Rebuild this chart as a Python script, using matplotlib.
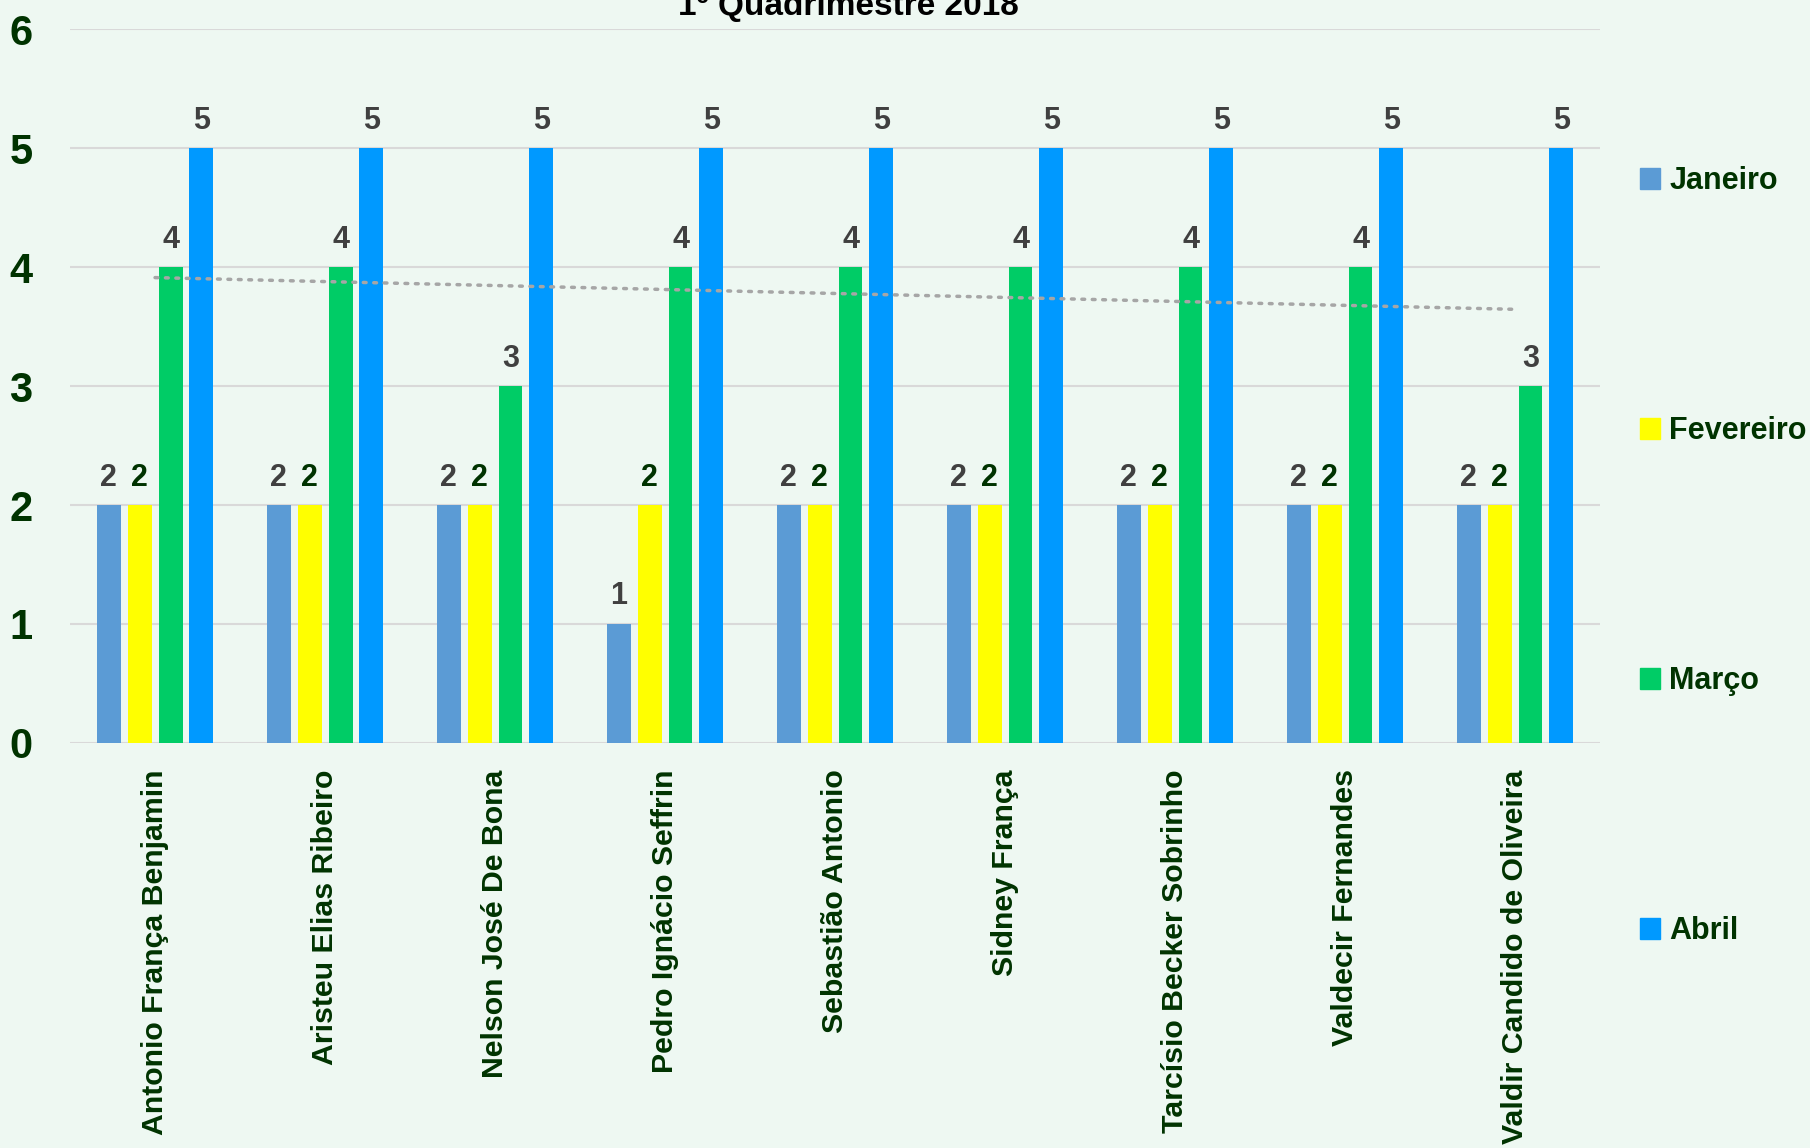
import numpy as np
import matplotlib.pyplot as plt
from matplotlib.patches import Patch

plt.rcParams['font.family'] = ['Liberation Sans', 'DejaVu Sans']
plt.rcParams['font.weight'] = 'bold'

nomes = ['Antonio França Benjamin', 'Aristeu Elias Ribeiro', 'Nelson José De Bona',
         'Pedro Ignácio Seffrin', 'Sebastião Antonio', 'Sidney França',
         'Tarcísio Becker Sobrinho', 'Valdecir Fernandes', 'Valdir Candido de Oliveira']
janeiro = [2, 2, 2, 1, 2, 2, 2, 2, 2]
fevereiro = [2, 2, 2, 2, 2, 2, 2, 2, 2]
marco = [4, 4, 3, 4, 4, 4, 4, 4, 3]
abril = [5, 5, 5, 5, 5, 5, 5, 5, 5]
meses = ['Janeiro', 'Fevereiro', 'Março', 'Abril']
cores = ['#5B9BD5', '#FFFF00', '#00CC66', '#0099FF']
cor_rotulo = ['#404040', '#003300', '#404040', '#404040']

bg = '#EEF8F2'
verde = '#003300'

fig = plt.figure(figsize=(18.1, 11.48), dpi=100, facecolor=bg)
ax = fig.add_axes([0.0387, 0.3528, 0.884 - 0.0387, 0.9747 - 0.3528], facecolor=bg)

x = np.arange(len(nomes))
w = 0.141
step = 0.182
series = [janeiro, fevereiro, marco, abril]
for i, vals in enumerate(series):
    pos = x + (i - 1.5) * step
    ax.bar(pos, vals, w, color=cores[i], label=meses[i], zorder=3)
    for px, v in zip(pos, vals):
        ax.annotate(str(v), (px, v), xytext=(0, 9), textcoords='offset points',
                    ha='center', va='bottom', fontsize=22, color=cor_rotulo[i],
                    fontweight='bold')

# linha de tendencia (Março)
coef = np.polyfit(x, marco, 1)
ax.plot([x[0], x[-1]], np.polyval(coef, [x[0], x[-1]]), color='#A6A6A6',
        lw=2.5, linestyle=(0, (0.8, 2.2)), dash_capstyle='round', zorder=4)

ax.set_xlim(-0.5, len(nomes) - 0.5)
ax.set_ylim(0, 6)
ax.set_yticks(range(0, 7))
ax.grid(axis='y', color='#D9D9D9', lw=1.5, zorder=0)
for s in ax.spines.values():
    s.set_visible(False)
ax.set_xticks(x)
ax.set_xticklabels(nomes, rotation=90, va='top', ha='center', fontsize=21.8,
                   color=verde, fontweight='bold')
ax.tick_params(axis='x', length=0, pad=19)
ax.tick_params(axis='y', length=0, pad=27, labelsize=30, labelcolor=verde)
for t in ax.get_yticklabels():
    t.set_fontweight('bold')

ax.set_title('1º Quadrimestre 2018', fontsize=24, fontweight='bold', color='black',
             pad=10, x=0.509)

handles = [Patch(color=c, label=m) for c, m in zip(cores, meses)]
leg = fig.legend(handles=handles, loc='upper left', bbox_to_anchor=(0.906, 0.855),
                 frameon=False, fontsize=22, labelspacing=7.2, handlelength=0.66,
                 handleheight=0.66, handletextpad=0.3, borderpad=0, borderaxespad=0)
for t in leg.get_texts():
    t.set_color(verde)
    t.set_fontweight('bold')

fig.savefig('out.png', dpi=100, facecolor=bg)
